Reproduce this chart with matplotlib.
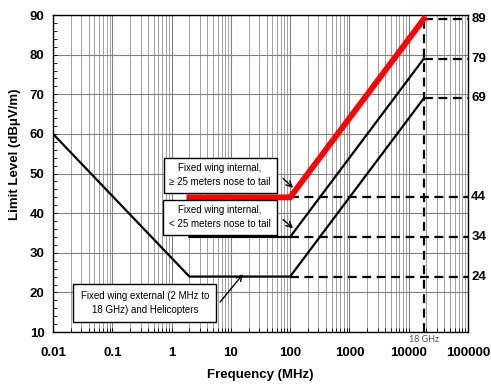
import matplotlib
matplotlib.use("Agg")
import matplotlib.pyplot as plt
from matplotlib.ticker import LogLocator, MultipleLocator, FixedLocator, NullFormatter
import matplotlib.transforms as mtransforms

plt.rcParams['font.family'] = ['Liberation Sans', 'DejaVu Sans']

# limit curves (MHz, dBuV/m)
freq_ext = [0.01, 2, 100, 18000]
lim_ext = [60, 24, 24, 69]
freq_int = [2, 100, 18000]
lim_int_small = [34, 34, 79]
lim_int_large = [44, 44, 89]

right_labels = [89, 79, 69, 44, 34, 24]
x_ticks = [0.01, 0.1, 1, 10, 100, 1000, 10000, 100000]
x_ticklabels = ['0.01', '0.1', '1', '10', '100', '1000', '10000', '100000']
y_ticks = [10, 20, 30, 40, 50, 60, 70, 80, 90]

fig = plt.figure(figsize=(4.91, 3.87), dpi=100)
ax = fig.add_axes([0.108, 0.142, 0.845, 0.819])

ax.set_xscale('log')
ax.set_xlim(0.01, 100000)
ax.set_ylim(10, 90)

# grid
ax.xaxis.set_major_locator(FixedLocator(x_ticks))
ax.xaxis.set_minor_locator(LogLocator(base=10, subs=range(2, 10), numticks=20))
ax.xaxis.set_minor_formatter(NullFormatter())
ax.set_xticklabels(x_ticklabels)
ax.set_yticks(y_ticks)
ax.yaxis.set_minor_locator(MultipleLocator(2))
ax.grid(True, which='major', axis='both', color='#808080', lw=0.8)
ax.grid(True, which='minor', axis='x', color='#a0a0a0', lw=0.7)
ax.set_axisbelow(True)
ax.tick_params(which='both', direction='in', length=3, width=0.6, top=False, right=False)
ax.tick_params(which='major', labelsize=9.5)
ax.tick_params(axis='x', which='major', pad=11)
ax.tick_params(axis='y', which='major', pad=6)
for lab in ax.get_xticklabels() + ax.get_yticklabels():
    lab.set_fontweight('bold')
for s in ax.spines.values():
    s.set_linewidth(1.0)

# limit lines
ax.plot(freq_ext, lim_ext, color='black', lw=1.6, solid_joinstyle='miter', zorder=4)
ax.plot(freq_int, lim_int_small, color='black', lw=1.6, solid_joinstyle='miter', zorder=4)
ax.plot(freq_int, lim_int_large, color='#ff0000', lw=4.2, solid_joinstyle='miter', zorder=5)

# dashed reference lines
dash = dict(color='black', lw=1.6, dashes=(4, 2.5), zorder=3)
for v in lim_ext[2:3] + lim_int_small[1:2] + lim_int_large[1:2]:
    ax.plot([100, 100000], [v, v], **dash)
for v in [lim_ext[-1], lim_int_small[-1], lim_int_large[-1]]:
    ax.plot([18000, 100000], [v, v], **dash)
ax.plot([18000, 18000], [10, lim_int_large[-1]], **dash)

# right-hand value labels
trans = mtransforms.blended_transform_factory(ax.transAxes, ax.transData)
for v in right_labels:
    ax.text(1.008, v, str(v), transform=trans, ha='left', va='center',
            fontsize=9.5, fontweight='bold')

# 18 GHz marker
trans_x = mtransforms.blended_transform_factory(ax.transData, ax.transAxes)
ax.text(18000, -0.008, '18 GHz', transform=trans_x, ha='center', va='top',
        fontsize=6.5, color='#555555', family=['Lato', 'DejaVu Sans'])

# annotation boxes
box = dict(boxstyle='square,pad=0.6', fc='white', ec='black', lw=1.0)
arrow = dict(arrowstyle='->', color='black', lw=1.0, shrinkA=0, shrinkB=0)
ax.text(6.6, 49.6, 'Fixed wing internal,\n\u2265 25 meters nose to tail',
        ha='center', va='center', fontsize=7, bbox=box, zorder=6, linespacing=1.45)
ax.annotate('', xy=(112, 46.4), xytext=(76, 48.8), arrowprops=arrow, zorder=6)
ax.text(6.6, 39.0, 'Fixed wing internal,\n< 25 meters nose to tail',
        ha='center', va='center', fontsize=7, bbox=box, zorder=6, linespacing=1.45)
ax.annotate('', xy=(112, 36.2), xytext=(76, 38.4), arrowprops=arrow, zorder=6)
ax.text(0.355, 17.4, 'Fixed wing external (2 MHz to\n18 GHz) and Helicopters',
        ha='center', va='center', fontsize=7, bbox=dict(box, boxstyle='square,pad=0.75'),
        zorder=6, linespacing=1.45)
ax.annotate('', xy=(16, 24.6), xytext=(6.6, 17.6), arrowprops=arrow, zorder=6)

ax.set_xlabel('Frequency (MHz)', fontsize=9.5, fontweight='bold', labelpad=7)
ax.set_ylabel('Limit Level (dB\u03bcV/m)', fontsize=9.5, fontweight='bold')
ax.yaxis.set_label_coords(-0.077, 0.56)

fig.savefig('out.png', dpi=100)
